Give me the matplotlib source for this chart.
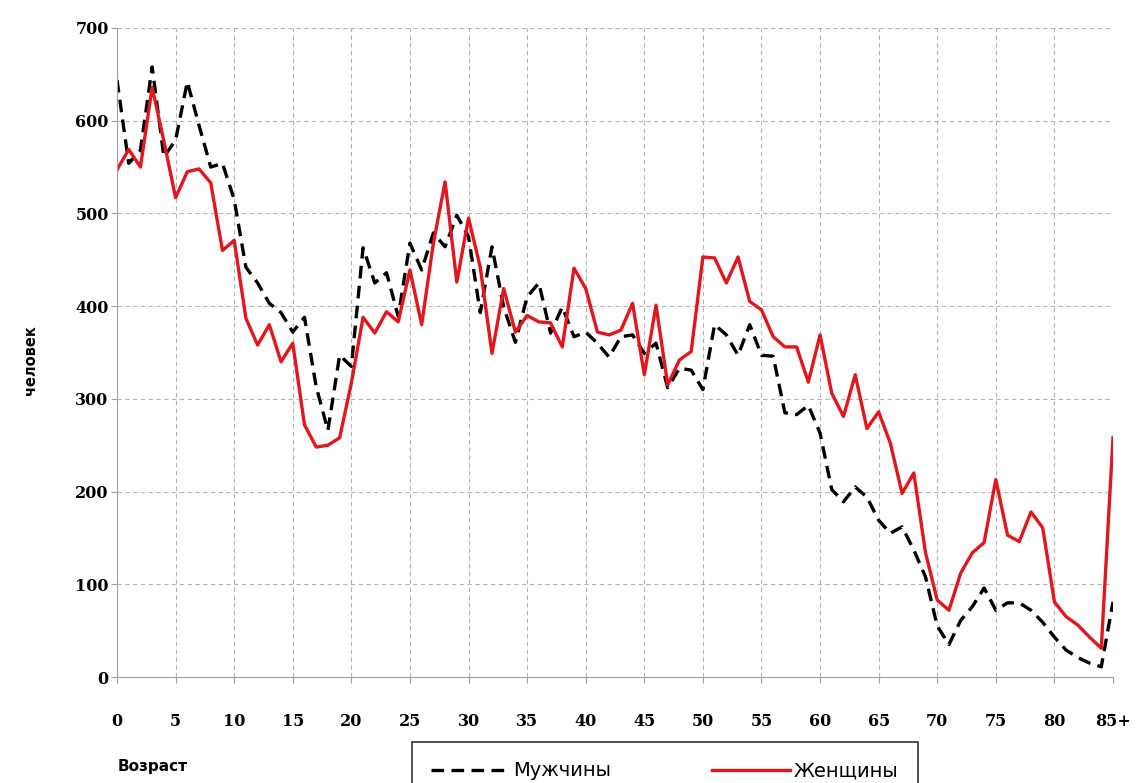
import numpy as np
import matplotlib
matplotlib.use('Agg')
import matplotlib.pyplot as plt

# возраст 0..85+ (одногодичные группы)
ages = list(range(86))
age_ticks = [0, 5, 10, 15, 20, 25, 30, 35, 40, 45, 50, 55, 60, 65, 70, 75, 80, 85]
age_ticklabels = ['0', '5', '10', '15', '20', '25', '30', '35', '40', '45',
                  '50', '55', '60', '65', '70', '75', '80', '85+']

men = [644, 554, 568, 658, 561, 579, 642, 595, 550, 554,
       515, 442, 425, 403, 393, 372, 388, 313, 266, 347,
       335, 463, 425, 436, 389, 468, 439, 479, 464, 498,
       475, 393, 464, 399, 361, 410, 425, 371, 399, 367,
       372, 360, 345, 367, 369, 349, 360, 312, 333, 331,
       310, 380, 369, 347, 380, 347, 346, 285, 283, 293,
       263, 202, 189, 205, 194, 169, 155, 162, 137, 108,
       55, 35, 61, 76, 96, 72, 80, 80, 72, 59,
       43, 29, 21, 15, 11, 81]

women = [547, 569, 550, 636, 578, 517, 545, 548, 533, 460,
         471, 387, 358, 380, 340, 360, 272, 248, 250, 258,
         317, 388, 371, 394, 383, 439, 380, 468, 534, 426,
         495, 442, 349, 419, 372, 390, 383, 382, 356, 441,
         419, 372, 369, 374, 403, 326, 401, 315, 342, 351,
         453, 452, 425, 453, 405, 396, 367, 356, 356, 318,
         369, 306, 281, 326, 268, 286, 252, 198, 220, 134,
         83, 72, 112, 134, 145, 213, 153, 146, 178, 161,
         81, 65, 56, 43, 31, 258]

fig = plt.figure(figsize=(11.36, 7.83), dpi=100)
ax = fig.add_axes([117/1136, 1-677/783, (1113-117)/1136, (677-28)/783])

ax.plot(ages, men, color='black', lw=2.4, ls=(0, (3.8, 2.2)), label='Мужчины')
ax.plot(ages, women, color='#e3161c', lw=2.4, label='Женщины')

ax.set_xlim(0, 85)
ax.set_ylim(0, 700)
ax.set_yticks(range(0, 701, 100))
ax.set_xticks(age_ticks)
ax.set_xticklabels(age_ticklabels)

for lab in ax.get_xticklabels() + ax.get_yticklabels():
    lab.set_fontfamily('DejaVu Serif')
    lab.set_fontweight('bold')
    lab.set_fontsize(11.5)

ax.grid(True, color='#b4b4b4', ls=(0, (4, 3)), lw=0.8)
ax.set_axisbelow(True)
for s in ['top', 'right']:
    ax.spines[s].set_visible(False)
for s in ['left', 'bottom']:
    ax.spines[s].set_color('#a0a0a0')
ax.tick_params(axis='x', length=4, color='#a0a0a0', pad=22)
ax.tick_params(axis='y', length=4, color='#a0a0a0', pad=2)

fig.text(30/1136, 1-360/783, 'человек', rotation=90, ha='center', va='center',
         fontsize=10.5, fontweight='bold', family='DejaVu Sans')
fig.text(118/1136, 1-766/783, 'Возраст', ha='left', va='center',
         fontsize=11, fontweight='bold', family='DejaVu Sans')

# легенда внизу, нижний край уходит за пределы рисунка
leg = fig.legend(loc='upper center', bbox_to_anchor=(665/1136, 1-742/783), ncol=2,
                 frameon=True, fancybox=False, edgecolor='black', fontsize=14,
                 handlelength=4.0, columnspacing=5.2, borderpad=1.0, handletextpad=0.2,
                 borderaxespad=0)
leg.get_frame().set_linewidth(1.2)

fig.savefig('out.png', dpi=100)
